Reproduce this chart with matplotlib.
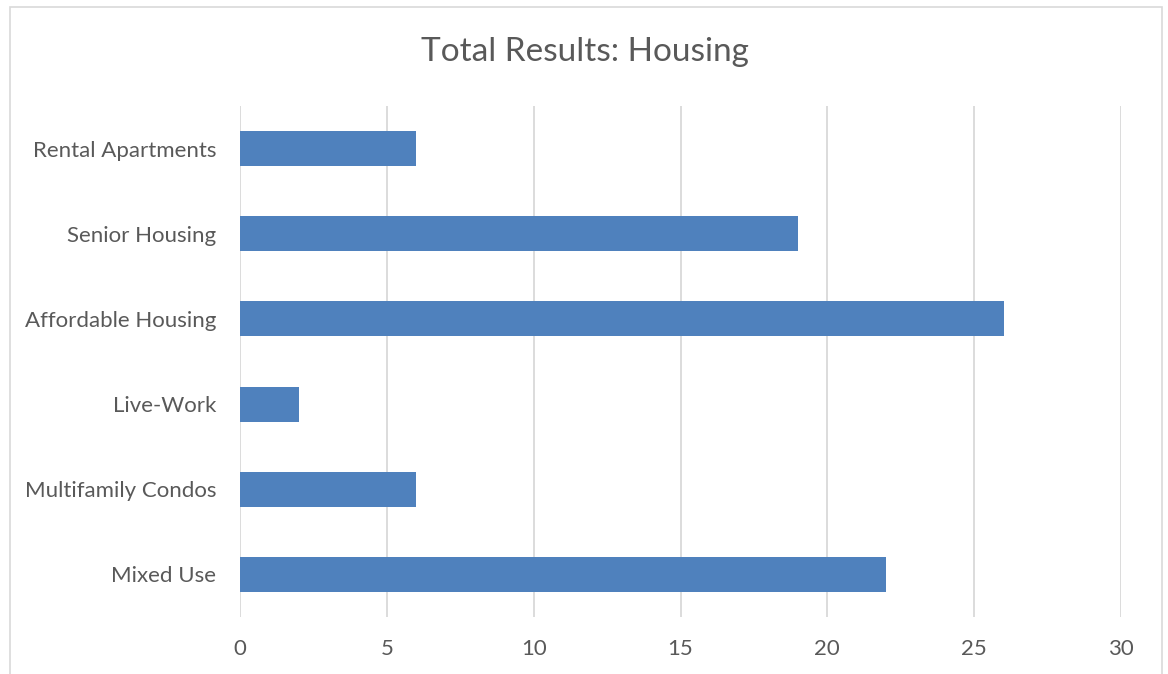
import matplotlib
matplotlib.use("Agg")
import matplotlib.pyplot as plt
from matplotlib.patches import Rectangle

categories = ["Mixed Use", "Multifamily Condos", "Live-Work", "Affordable Housing", "Senior Housing", "Rental Apartments"]
values = [22, 6, 2, 26, 19, 6]
xticks = [0, 5, 10, 15, 20, 25, 30]
title = "Total Results: Housing"

plt.rcParams['font.family'] = ['Lato', 'DejaVu Sans']
text_color = "#595959"
bar_color = "#4F81BD"
grid_color = "#D9D9D9"

fig = plt.figure(figsize=(11.68, 6.74), dpi=100)
ax = fig.add_axes([240/1168, 1-617/674, (1121-240)/1168, (617-106)/674])

ax.barh(range(len(categories)), values, height=0.41, color=bar_color, zorder=3)
ax.set_ylim(-0.5, len(categories)-0.5)
ax.set_xlim(0, 30)
ax.set_xticks(xticks)
ax.set_xticklabels([str(t) for t in xticks])
ax.set_yticks(range(len(categories)))
ax.set_yticklabels(categories)
ax.xaxis.grid(True, color=grid_color, linewidth=1.3, zorder=0)
for s in ax.spines.values():
    s.set_visible(False)
ax.tick_params(axis='both', length=0, labelsize=16, colors=text_color)
ax.tick_params(axis='y', pad=17)
ax.tick_params(axis='x', pad=16)

fig.text(585/1168, 1-52/674, title, ha='center', va='center', fontsize=24, color=text_color)

fig.patches.append(Rectangle((10/1168, -0.05), (1162-10)/1168, 1.05-7/674,
                             transform=fig.transFigure, fill=False,
                             edgecolor=grid_color, linewidth=1.2))

fig.savefig("out.png", dpi=100)
